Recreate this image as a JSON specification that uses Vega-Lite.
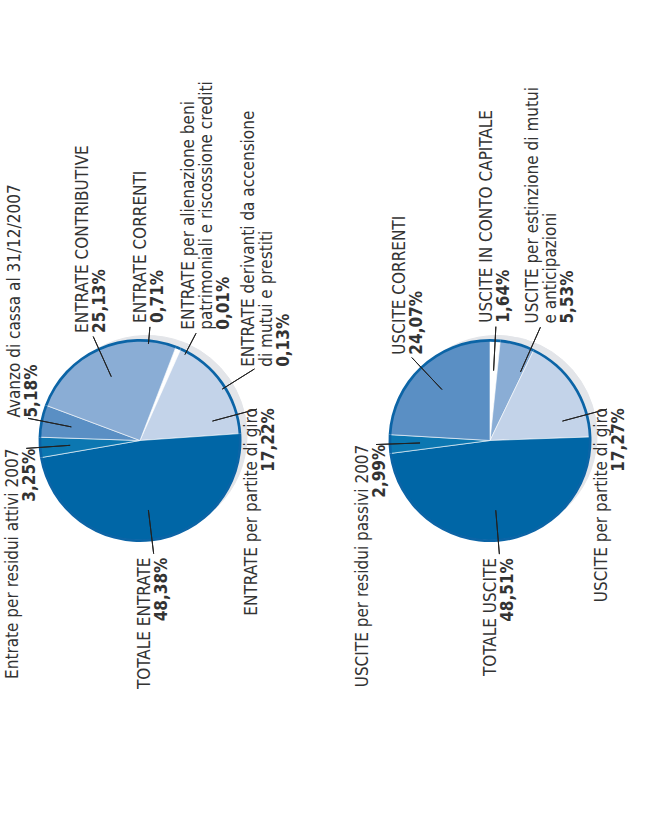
{
  "$schema": "https://vega.github.io/schema/vega-lite/v6.json",
  "background": "#ffffff",
  "padding": {"top": 48, "left": 0, "right": 0, "bottom": 0},
  "spacing": 54,
  "bounds": "flush",
  "datasets": {
    "entrate": [
      {"voce": "correnti", "nome": "ENTRATE CORRENTI", "quota": 0.0071, "ord": 1},
      {"voce": "alienazione", "nome": ["ENTRATE per alienazione beni", "patrimoniali e riscossione crediti"], "quota": 0.0001, "ord": 2},
      {"voce": "accensione", "nome": ["ENTRATE derivanti da accensione", "di mutui e prestiti"], "quota": 0.0013, "ord": 3},
      {"voce": "partite", "nome": "ENTRATE per partite di giro", "quota": 0.1722, "ord": 4},
      {"voce": "totale", "nome": "TOTALE ENTRATE", "quota": 0.4838, "ord": 5},
      {"voce": "residui", "nome": "Entrate per residui attivi 2007", "quota": 0.0325, "ord": 6},
      {"voce": "avanzo", "nome": "Avanzo di cassa al 31/12/2007", "quota": 0.0518, "ord": 7},
      {"voce": "contributive", "nome": "ENTRATE CONTRIBUTIVE", "quota": 0.2513, "ord": 8}
    ],
    "uscite": [
      {"voce": "capitale", "nome": "USCITE IN CONTO CAPITALE", "quota": 0.0164, "ord": 1},
      {"voce": "estinzione", "nome": ["USCITE per estinzione di mutui", "e anticipazioni"], "quota": 0.0553, "ord": 2},
      {"voce": "partite", "nome": "USCITE per partite di giro", "quota": 0.1727, "ord": 3},
      {"voce": "totale", "nome": "TOTALE USCITE", "quota": 0.4851, "ord": 4},
      {"voce": "residui", "nome": "USCITE per residui passivi 2007", "quota": 0.0299, "ord": 5},
      {"voce": "correnti", "nome": "USCITE CORRENTI", "quota": 0.2407, "ord": 6}
    ]
  },
  "resolve": {"scale": {"color": "independent", "theta": "independent"}},
  "hconcat": [
    {
      "width": 280,
      "height": 785,
      "data": {"name": "entrate"},
      "encoding": {
        "theta": {"field": "quota", "type": "quantitative", "stack": true, "scale": {"range": [0.3665, 6.6497]}},
        "order": {"field": "ord", "type": "quantitative"},
        "detail": {"field": "voce", "type": "nominal"}
      },
      "layer": [
        {"mark": {"type": "arc", "radius": 100, "fill": "#e3e5e9", "stroke": "#e3e5e9", "strokeWidth": 1, "xOffset": 7, "yOffset": -5}},
        {"mark": {"type": "arc", "radius": 100, "stroke": "#ffffff", "strokeWidth": 0.6},
         "encoding": {"color": {"field": "voce", "type": "nominal", "legend": null,
           "scale": {"domain": ["correnti", "alienazione", "accensione", "partite", "totale", "residui", "avanzo", "contributive"],
                     "range": ["#ffffff", "#ffffff", "#ffffff", "#c3d3e9", "#0066a6", "#0c77b1", "#5a8fc4", "#8aadd5"]}}}},
        {"mark": {"type": "arc", "radius": 101.5, "radius2": 98.8, "fill": "#0b64a6"}},
        {"mark": {"type": "arc", "radius": 114, "radius2": 70, "padAngle": 3.14, "fillOpacity": 0, "stroke": "#222222", "strokeWidth": 1},
         "encoding": {"strokeOpacity": {"condition": {"test": "indexof(['contributive','avanzo','residui','totale'], datum.voce) >= 0", "value": 1}, "value": 0}}},
        {"mark": {"type": "arc", "radius": 121, "radius2": 75, "padAngle": 3.14, "thetaOffset": 0.348, "theta2Offset": 0.348, "fillOpacity": 0, "stroke": "#222222", "strokeWidth": 1},
         "encoding": {"strokeOpacity": {"condition": {"test": "datum.voce === 'partite'", "value": 1}, "value": 0}}},
        {"mark": {"type": "arc", "radius": 114, "radius2": 97, "padAngle": 3.14, "thetaOffset": -0.3016, "theta2Offset": -0.3016, "fillOpacity": 0, "stroke": "#222222", "strokeWidth": 1},
         "encoding": {"strokeOpacity": {"condition": {"test": "datum.voce === 'correnti'", "value": 1}, "value": 0}}},
        {"mark": {"type": "arc", "radius": 121, "radius2": 97, "padAngle": 3.14, "thetaOffset": 0.0702, "theta2Offset": 0.0702, "fillOpacity": 0, "stroke": "#222222", "strokeWidth": 1},
         "encoding": {"strokeOpacity": {"condition": {"test": "datum.voce === 'alienazione'", "value": 1}, "value": 0}}},
        {"mark": {"type": "arc", "radius": 135, "radius2": 97, "padAngle": 3.14, "thetaOffset": 0.5964, "theta2Offset": 0.5964, "fillOpacity": 0, "stroke": "#222222", "strokeWidth": 1},
         "encoding": {"strokeOpacity": {"condition": {"test": "datum.voce === 'accensione'", "value": 1}, "value": 0}}},

        {"mark": {"type": "text", "radius": 118, "angle": 270, "align": "left", "baseline": "bottom", "lineHeight": 18, "color": "#333333"},
         "encoding": {"text": {"condition": {"test": "indexof(['contributive','avanzo'], datum.voce) >= 0", "field": "nome", "type": "nominal"}, "value": ""},
                      "size": {"condition": {"test": "indexof(['contributive','avanzo'], datum.voce) >= 0", "value": 17}, "value": 0}}},
        {"mark": {"type": "text", "radius": 118, "angle": 270, "align": "left", "baseline": "top", "fontWeight": "bold", "lineHeight": 18, "color": "#333333"},
         "encoding": {"text": {"condition": {"test": "indexof(['contributive','avanzo'], datum.voce) >= 0", "field": "quota", "type": "quantitative", "format": ".2%"}, "value": ""},
                      "size": {"condition": {"test": "indexof(['contributive','avanzo'], datum.voce) >= 0", "value": 17}, "value": 0}}},

        {"mark": {"type": "text", "radius": 118, "angle": 270, "align": "right", "baseline": "bottom", "lineHeight": 18, "color": "#333333"},
         "encoding": {"text": {"condition": {"test": "indexof(['residui','totale'], datum.voce) >= 0", "field": "nome", "type": "nominal"}, "value": ""},
                      "size": {"condition": {"test": "indexof(['residui','totale'], datum.voce) >= 0", "value": 17}, "value": 0}}},
        {"mark": {"type": "text", "radius": 118, "angle": 270, "align": "right", "baseline": "top", "fontWeight": "bold", "lineHeight": 18, "color": "#333333"},
         "encoding": {"text": {"condition": {"test": "indexof(['residui','totale'], datum.voce) >= 0", "field": "quota", "type": "quantitative", "format": ".2%"}, "value": ""},
                      "size": {"condition": {"test": "indexof(['residui','totale'], datum.voce) >= 0", "value": 17}, "value": 0}}},

        {"mark": {"type": "text", "radius": 125, "thetaOffset": 0.348, "angle": 270, "align": "right", "baseline": "bottom", "lineHeight": 18, "color": "#333333"},
         "encoding": {"text": {"condition": {"test": "datum.voce === 'partite'", "field": "nome", "type": "nominal"}, "value": ""},
                      "size": {"condition": {"test": "datum.voce === 'partite'", "value": 17}, "value": 0}}},
        {"mark": {"type": "text", "radius": 125, "thetaOffset": 0.348, "angle": 270, "align": "right", "baseline": "top", "fontWeight": "bold", "lineHeight": 18, "color": "#333333"},
         "encoding": {"text": {"condition": {"test": "datum.voce === 'partite'", "field": "quota", "type": "quantitative", "format": ".2%"}, "value": ""},
                      "size": {"condition": {"test": "datum.voce === 'partite'", "value": 17}, "value": 0}}},

        {"mark": {"type": "text", "radius": 118, "thetaOffset": -0.3016, "angle": 270, "align": "left", "baseline": "bottom", "lineHeight": 18, "color": "#333333"},
         "encoding": {"text": {"condition": {"test": "datum.voce === 'correnti'", "field": "nome", "type": "nominal"}, "value": ""},
                      "size": {"condition": {"test": "datum.voce === 'correnti'", "value": 17}, "value": 0}}},
        {"mark": {"type": "text", "radius": 118, "thetaOffset": -0.3016, "angle": 270, "align": "left", "baseline": "top", "fontWeight": "bold", "lineHeight": 18, "color": "#333333"},
         "encoding": {"text": {"condition": {"test": "datum.voce === 'correnti'", "field": "quota", "type": "quantitative", "format": ".2%"}, "value": ""},
                      "size": {"condition": {"test": "datum.voce === 'correnti'", "value": 17}, "value": 0}}},

        {"mark": {"type": "text", "radius": 125, "thetaOffset": 0.0702, "angle": 270, "align": "left", "baseline": "bottom", "lineHeight": 18, "color": "#333333"},
         "encoding": {"text": {"condition": {"test": "datum.voce === 'alienazione'", "field": "nome", "type": "nominal"}, "value": ""},
                      "size": {"condition": {"test": "datum.voce === 'alienazione'", "value": 17}, "value": 0}}},
        {"mark": {"type": "text", "radius": 125, "thetaOffset": 0.0702, "angle": 270, "align": "left", "baseline": "top", "dy": 18, "fontWeight": "bold", "lineHeight": 18, "color": "#333333"},
         "encoding": {"text": {"condition": {"test": "datum.voce === 'alienazione'", "field": "quota", "type": "quantitative", "format": ".2%"}, "value": ""},
                      "size": {"condition": {"test": "datum.voce === 'alienazione'", "value": 17}, "value": 0}}},

        {"mark": {"type": "text", "radius": 139, "thetaOffset": 0.5964, "angle": 270, "align": "left", "baseline": "bottom", "lineHeight": 18, "color": "#333333"},
         "encoding": {"text": {"condition": {"test": "datum.voce === 'accensione'", "field": "nome", "type": "nominal"}, "value": ""},
                      "size": {"condition": {"test": "datum.voce === 'accensione'", "value": 17}, "value": 0}}},
        {"mark": {"type": "text", "radius": 139, "thetaOffset": 0.5964, "angle": 270, "align": "left", "baseline": "top", "dy": 18, "fontWeight": "bold", "lineHeight": 18, "color": "#333333"},
         "encoding": {"text": {"condition": {"test": "datum.voce === 'accensione'", "field": "quota", "type": "quantitative", "format": ".2%"}, "value": ""},
                      "size": {"condition": {"test": "datum.voce === 'accensione'", "value": 17}, "value": 0}}}
      ]
    },
    {
      "width": 312,
      "height": 785,
      "data": {"name": "uscite"},
      "encoding": {
        "theta": {"field": "quota", "type": "quantitative", "stack": true, "scale": {"range": [0, 6.2832]}},
        "order": {"field": "ord", "type": "quantitative"},
        "detail": {"field": "voce", "type": "nominal"}
      },
      "layer": [
        {"mark": {"type": "arc", "radius": 100, "fill": "#e3e5e9", "stroke": "#e3e5e9", "strokeWidth": 1, "xOffset": 7, "yOffset": -5}},
        {"mark": {"type": "arc", "radius": 100, "stroke": "#ffffff", "strokeWidth": 0.6},
         "encoding": {"color": {"field": "voce", "type": "nominal", "legend": null,
           "scale": {"domain": ["capitale", "estinzione", "partite", "totale", "residui", "correnti"],
                     "range": ["#ffffff", "#8aadd5", "#c3d3e9", "#0066a6", "#0c77b1", "#5a8fc4"]}}}},
        {"mark": {"type": "arc", "radius": 101.5, "radius2": 98.8, "fill": "#0b64a6"}},
        {"mark": {"type": "arc", "radius": 114, "radius2": 70, "padAngle": 3.14, "fillOpacity": 0, "stroke": "#222222", "strokeWidth": 1},
         "encoding": {"strokeOpacity": {"condition": {"test": "indexof(['correnti','capitale','residui','totale'], datum.voce) >= 0", "value": 1}, "value": 0}}},
        {"mark": {"type": "arc", "radius": 124, "radius2": 75, "padAngle": 3.14, "thetaOffset": 0.142, "theta2Offset": 0.142, "fillOpacity": 0, "stroke": "#222222", "strokeWidth": 1},
         "encoding": {"strokeOpacity": {"condition": {"test": "datum.voce === 'estinzione'", "value": 1}, "value": 0}}},
        {"mark": {"type": "arc", "radius": 121, "radius2": 75, "padAngle": 3.14, "thetaOffset": 0.316, "theta2Offset": 0.316, "fillOpacity": 0, "stroke": "#222222", "strokeWidth": 1},
         "encoding": {"strokeOpacity": {"condition": {"test": "datum.voce === 'partite'", "value": 1}, "value": 0}}},

        {"mark": {"type": "text", "radius": 118, "angle": 270, "align": "left", "baseline": "bottom", "lineHeight": 18, "color": "#333333"},
         "encoding": {"text": {"condition": {"test": "indexof(['correnti','capitale'], datum.voce) >= 0", "field": "nome", "type": "nominal"}, "value": ""},
                      "size": {"condition": {"test": "indexof(['correnti','capitale'], datum.voce) >= 0", "value": 17}, "value": 0}}},
        {"mark": {"type": "text", "radius": 118, "angle": 270, "align": "left", "baseline": "top", "fontWeight": "bold", "lineHeight": 18, "color": "#333333"},
         "encoding": {"text": {"condition": {"test": "indexof(['correnti','capitale'], datum.voce) >= 0", "field": "quota", "type": "quantitative", "format": ".2%"}, "value": ""},
                      "size": {"condition": {"test": "indexof(['correnti','capitale'], datum.voce) >= 0", "value": 17}, "value": 0}}},

        {"mark": {"type": "text", "radius": 118, "angle": 270, "align": "right", "baseline": "bottom", "lineHeight": 18, "color": "#333333"},
         "encoding": {"text": {"condition": {"test": "indexof(['residui','totale'], datum.voce) >= 0", "field": "nome", "type": "nominal"}, "value": ""},
                      "size": {"condition": {"test": "indexof(['residui','totale'], datum.voce) >= 0", "value": 17}, "value": 0}}},
        {"mark": {"type": "text", "radius": 118, "angle": 270, "align": "right", "baseline": "top", "fontWeight": "bold", "lineHeight": 18, "color": "#333333"},
         "encoding": {"text": {"condition": {"test": "indexof(['residui','totale'], datum.voce) >= 0", "field": "quota", "type": "quantitative", "format": ".2%"}, "value": ""},
                      "size": {"condition": {"test": "indexof(['residui','totale'], datum.voce) >= 0", "value": 17}, "value": 0}}},

        {"mark": {"type": "text", "radius": 128, "thetaOffset": 0.142, "angle": 270, "align": "left", "baseline": "bottom", "lineHeight": 18, "color": "#333333"},
         "encoding": {"text": {"condition": {"test": "datum.voce === 'estinzione'", "field": "nome", "type": "nominal"}, "value": ""},
                      "size": {"condition": {"test": "datum.voce === 'estinzione'", "value": 17}, "value": 0}}},
        {"mark": {"type": "text", "radius": 128, "thetaOffset": 0.142, "angle": 270, "align": "left", "baseline": "top", "dy": 18, "fontWeight": "bold", "lineHeight": 18, "color": "#333333"},
         "encoding": {"text": {"condition": {"test": "datum.voce === 'estinzione'", "field": "quota", "type": "quantitative", "format": ".2%"}, "value": ""},
                      "size": {"condition": {"test": "datum.voce === 'estinzione'", "value": 17}, "value": 0}}},

        {"mark": {"type": "text", "radius": 125, "thetaOffset": 0.316, "angle": 270, "align": "right", "baseline": "bottom", "lineHeight": 18, "color": "#333333"},
         "encoding": {"text": {"condition": {"test": "datum.voce === 'partite'", "field": "nome", "type": "nominal"}, "value": ""},
                      "size": {"condition": {"test": "datum.voce === 'partite'", "value": 17}, "value": 0}}},
        {"mark": {"type": "text", "radius": 125, "thetaOffset": 0.316, "angle": 270, "align": "right", "baseline": "top", "fontWeight": "bold", "lineHeight": 18, "color": "#333333"},
         "encoding": {"text": {"condition": {"test": "datum.voce === 'partite'", "field": "quota", "type": "quantitative", "format": ".2%"}, "value": ""},
                      "size": {"condition": {"test": "datum.voce === 'partite'", "value": 17}, "value": 0}}}
      ]
    }
  ],
  "config": {
    "view": {"stroke": null},
    "text": {"font": "Liberation Sans Narrow, DejaVu Sans Condensed, sans-serif"},
    "locale": {"number": {"decimal": ",", "thousands": ".", "grouping": [3], "currency": ["", " €"]}}
  }
}
